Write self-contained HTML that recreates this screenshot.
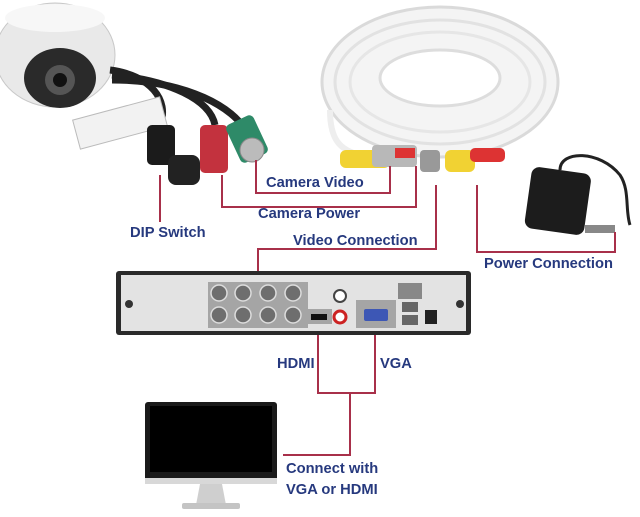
<!DOCTYPE html>
<html><head><style>
body{margin:0;width:640px;height:517px;background:#fff;position:relative;overflow:hidden;font-family:"Liberation Sans",sans-serif}
.l{position:absolute;color:#26397e;font-weight:bold;font-size:14.7px;white-space:nowrap}
svg{position:absolute;left:0;top:0}
</style></head><body>
<svg width="640" height="517" viewBox="0 0 640 517">
<ellipse cx="55" cy="55" rx="60" ry="52" fill="#e9e9e9" stroke="#c8c8c8"/>
<ellipse cx="55" cy="18" rx="50" ry="14" fill="#f7f7f7"/>
<ellipse cx="60" cy="78" rx="36" ry="30" fill="#2a2a2a"/>
<circle cx="60" cy="80" r="15" fill="#555"/>
<circle cx="60" cy="80" r="7" fill="#111"/>
<path d="M110 70 C150 75 170 100 160 125" stroke="#222" stroke-width="7" fill="none"/>
<path d="M112 75 C170 80 210 100 215 125" stroke="#222" stroke-width="7" fill="none"/>
<path d="M112 80 C190 80 235 110 245 130" stroke="#222" stroke-width="7" fill="none"/>
<rect x="75" y="108" width="90" height="30" fill="#f2f2f2" stroke="#bbb" transform="rotate(-15 120 123)"/>
<rect x="147" y="125" width="28" height="40" rx="5" fill="#1b1b1b"/>
<rect x="168" y="155" width="32" height="30" rx="8" fill="#222"/>
<rect x="200" y="125" width="28" height="48" rx="5" fill="#c3323e"/>
<rect x="232" y="118" width="30" height="42" rx="5" fill="#2e8a68" transform="rotate(-25 247 139)"/>
<circle cx="252" cy="150" r="12" fill="#bbb" stroke="#888"/>
<ellipse cx="440" cy="82" rx="118" ry="75" fill="#f4f4f4" stroke="#dadada" stroke-width="3"/>
<ellipse cx="440" cy="82" rx="105" ry="62" fill="none" stroke="#e2e2e2" stroke-width="3"/>
<ellipse cx="440" cy="82" rx="90" ry="50" fill="none" stroke="#e6e6e6" stroke-width="3"/>
<ellipse cx="440" cy="78" rx="60" ry="28" fill="#fff" stroke="#ddd" stroke-width="3"/>
<path d="M330 110 C330 140 340 150 360 155" stroke="#eee" stroke-width="6" fill="none"/>
<rect x="340" y="150" width="50" height="18" rx="6" fill="#f1d233"/>
<rect x="372" y="145" width="45" height="22" rx="4" fill="#b8b8b8"/>
<rect x="395" y="148" width="20" height="10" fill="#d33"/>
<rect x="420" y="150" width="20" height="22" rx="4" fill="#999"/>
<rect x="445" y="150" width="30" height="22" rx="6" fill="#f1d233"/>
<rect x="470" y="148" width="35" height="14" rx="5" fill="#d33"/>
<rect x="528" y="170" width="60" height="62" rx="8" fill="#1c1c1c" transform="rotate(8 558 200)"/>
<path d="M560 170 C560 150 600 150 620 175 C630 190 625 210 630 225" stroke="#222" stroke-width="3" fill="none"/>
<rect x="585" y="225" width="30" height="8" fill="#888"/>
<g stroke="#a8304a" stroke-width="2" fill="none">
<path d="M160 175 V222"/>
<path d="M256 160 V193 H390 V166"/>
<path d="M222 175 V207 H416 V166"/>
<path d="M436 185 V249 H258 V272"/>
<path d="M477 185 V252 H615 V232"/>
<path d="M318 334 V393 H375 V334"/>
<path d="M350 393 V455 H283"/>
</g>
<rect x="116" y="271" width="355" height="64" rx="3" fill="#2a2a2a"/>
<rect x="121" y="275" width="345" height="56" fill="#e3e3e3"/>
<rect x="208" y="282" width="100" height="46" fill="#a5a5a5"/>
<g fill="#6e6e6e" stroke="#ddd" stroke-width="1.5">
<circle cx="219" cy="293" r="8"/><circle cx="243" cy="293" r="8"/><circle cx="268" cy="293" r="8"/><circle cx="293" cy="293" r="8"/>
<circle cx="219" cy="315" r="8"/><circle cx="243" cy="315" r="8"/><circle cx="268" cy="315" r="8"/><circle cx="293" cy="315" r="8"/>
</g>
<rect x="306" y="309" width="26" height="15" fill="#a5a5a5"/><rect x="311" y="314" width="16" height="6" fill="#111"/>
<circle cx="340" cy="296" r="6" fill="#fff" stroke="#444" stroke-width="2"/>
<circle cx="340" cy="317" r="6" fill="#fff" stroke="#c22" stroke-width="3"/>
<rect x="356" y="300" width="40" height="28" fill="#a5a5a5"/><rect x="364" y="309" width="24" height="12" rx="2" fill="#3d57b5"/>
<rect x="398" y="283" width="24" height="16" fill="#888"/>
<rect x="402" y="302" width="16" height="10" fill="#666"/><rect x="402" y="315" width="16" height="10" fill="#666"/>
<rect x="425" y="310" width="12" height="14" fill="#222"/>
<circle cx="129" cy="304" r="4" fill="#333"/><circle cx="460" cy="304" r="4" fill="#333"/>
<rect x="145" y="402" width="132" height="80" rx="3" fill="#1a1a1a"/>
<rect x="150" y="406" width="122" height="66" fill="#000"/>
<rect x="145" y="478" width="132" height="6" fill="#d8d8d8"/>
<path d="M200 484 L196 505 H226 L222 484 Z" fill="#cfcfcf"/>
<rect x="182" y="503" width="58" height="6" rx="2" fill="#c4c4c4"/>
</svg>
<div class="l" style="left:266px;top:175px">Camera Video</div>
<div class="l" style="left:258px;top:206px">Camera Power</div>
<div class="l" style="left:130px;top:225px">DIP Switch</div>
<div class="l" style="left:293px;top:233px">Video Connection</div>
<div class="l" style="left:484px;top:256px">Power Connection</div>
<div class="l" style="left:277px;top:356px">HDMI</div>
<div class="l" style="left:380px;top:356px">VGA</div>
<div class="l" style="left:286px;top:459px;line-height:21px">Connect with<br>VGA or HDMI</div>
</body></html>
